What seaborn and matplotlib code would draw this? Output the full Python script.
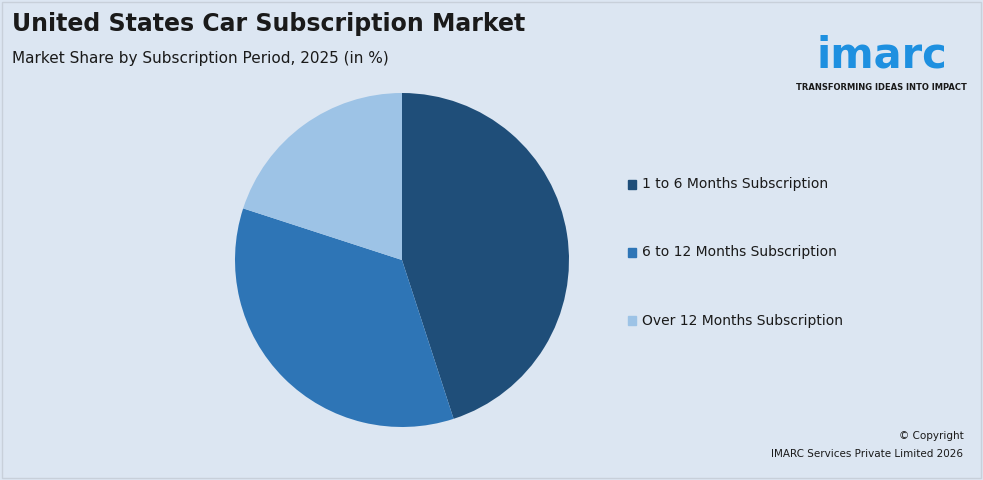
import matplotlib
matplotlib.use('Agg')
import matplotlib.pyplot as plt
import seaborn as sns

labels = ['1 to 6 Months Subscription', '6 to 12 Months Subscription', 'Over 12 Months Subscription']
shares = [45, 35, 20]
colors = ['#1f4e79', '#2e75b6', '#9dc3e6']

sns.set_theme(style='white')
plt.rcParams['font.family'] = ['DejaVu Sans']
bg = '#dce6f2'

fig = plt.figure(figsize=(9.83, 4.8), dpi=100, facecolor=bg)
fig.patches.append(plt.Rectangle((0.002, 0.004), 0.996, 0.992, transform=fig.transFigure,
                                 fill=False, edgecolor='#c8d0da', linewidth=1))

# pie centre ~(402, 260) px, radius ~167 px
ax = fig.add_axes([(402 - 167) / 983, (480 - 260 - 167) / 480, 334 / 983, 334 / 480])
ax.set_facecolor(bg)
ax.pie(shares, colors=colors, startangle=90, counterclock=False,
       wedgeprops={'linewidth': 0})
ax.set_xlim(-1, 1)
ax.set_ylim(-1, 1)
ax.set_aspect('equal')
ax.axis('off')

fig.text(0.012, 0.935, 'United States Car Subscription Market', fontsize=17, fontweight='bold', color='#1a1a1a')
fig.text(0.012, 0.868, 'Market Share by Subscription Period, 2025 (in %)', fontsize=11, color='#1a1a1a')

for i, (lab, c) in enumerate(zip(labels, colors)):
    y = 0.618 - i * 0.142
    fig.patches.append(plt.Rectangle((0.639, y - 0.011), 0.008, 0.018, transform=fig.transFigure, color=c))
    fig.text(0.653, y - 0.002, lab, fontsize=10, va='center', color='#1a1a1a')

fig.text(0.897, 0.885, 'imarc', fontsize=30, fontweight='bold', color='#1e90e0', ha='center', va='center')
fig.text(0.897, 0.818, 'TRANSFORMING IDEAS INTO IMPACT', fontsize=6, fontweight='bold', color='#1a1a1a', ha='center', va='center')

fig.text(0.98, 0.085, '© Copyright', fontsize=7.5, ha='right', color='#1a1a1a')
fig.text(0.98, 0.047, 'IMARC Services Private Limited 2026', fontsize=7.5, ha='right', color='#1a1a1a')

fig.savefig('out.png', dpi=100, facecolor=bg)
